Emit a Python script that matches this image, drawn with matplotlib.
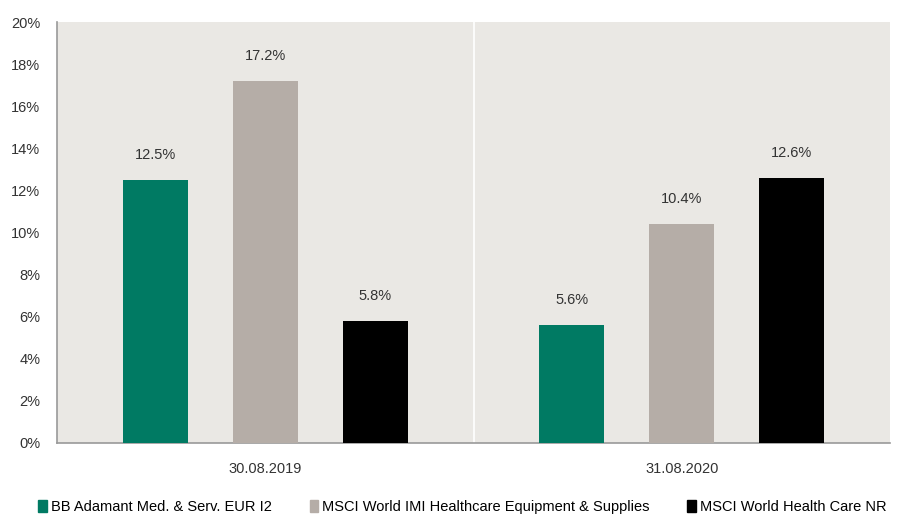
import numpy as np
import matplotlib.pyplot as plt
from matplotlib.patches import Patch
from matplotlib.ticker import FuncFormatter

dates = ['30.08.2019', '31.08.2020']
series = ['BB Adamant Med. & Serv. EUR I2',
          'MSCI World IMI Healthcare Equipment & Supplies',
          'MSCI World Health Care NR']
values = [[12.5, 5.6],
          [17.2, 10.4],
          [5.8, 12.6]]
colors = ['#007A63', '#B5ADA7', '#000000']

plt.rcParams['font.family'] = ['Liberation Sans', 'DejaVu Sans']

fig = plt.figure(figsize=(8.98, 5.15), dpi=100)
ax = fig.add_axes([57/898, 1 - 443/515, 833/898, 421/515])
ax.set_facecolor('#EAE8E4')

x = np.arange(len(dates))
width = 0.156
offsets = [-0.264, 0, 0.264]
for i in range(len(series)):
    bars = ax.bar(x + offsets[i], values[i], width, color=colors[i], zorder=3)
    for b, v in zip(bars, values[i]):
        ax.text(b.get_x() + b.get_width() / 2, v + 1.2, f'{v:.1f}%',
                ha='center', va='center', fontsize=10.5, color='#333333')

ax.axvline(0.5, color='white', lw=1.2, zorder=2)
ax.set_xlim(-0.5, 1.5)
ax.set_ylim(0, 20)
ax.set_yticks(range(0, 21, 2))
ax.yaxis.set_major_formatter(FuncFormatter(lambda v, p: f'{v:.0f}%'))
ax.set_xticks(x)
ax.set_xticklabels(dates)
ax.tick_params(axis='both', length=0, labelsize=10.5, colors='#333333')
ax.tick_params(axis='x', pad=14)
ax.tick_params(axis='y', pad=12)
for s in ['top', 'right']:
    ax.spines[s].set_visible(False)
ax.spines['left'].set_color('#999999')
ax.spines['bottom'].set_color('#999999')
ax.spines['left'].set_linewidth(1.2)
ax.spines['bottom'].set_linewidth(1.2)

handles = [Patch(color=c, label=s) for c, s in zip(colors, series)]
fig.legend(handles=handles, loc='center', bbox_to_anchor=(0.515, 1 - 507/515),
           ncol=3, frameon=False, fontsize=10.5, handlelength=0.6,
           handleheight=0.8, handletextpad=0.25, columnspacing=2.6,
           borderpad=0)

fig.savefig('out.png', dpi=100, facecolor='white')
